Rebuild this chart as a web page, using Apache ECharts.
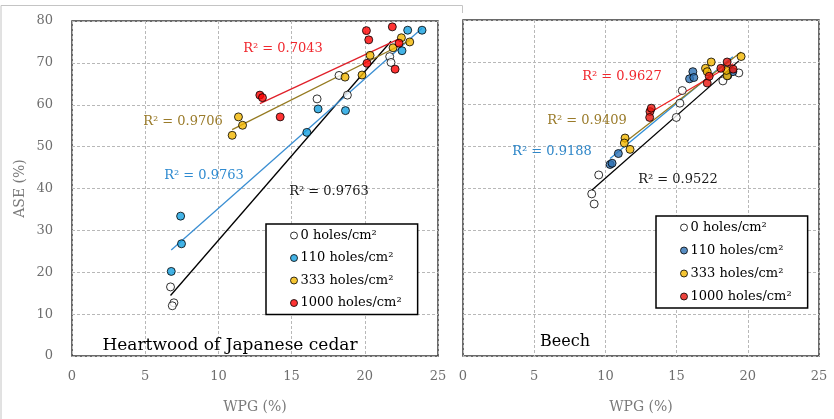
<!DOCTYPE html>
<html>
<head>
  <meta charset="UTF-8">
  <title>ASE vs WPG</title>
  <style>
    body { margin: 0; background: #fff; }
    #main { width: 834px; height: 419px; }
  </style>
</head>
<body>
  <div id="main"></div>
  <script src="https://cdn.jsdelivr.net/npm/echarts@6/dist/echarts.min.js"></script>
  <script>
    const holeNames = ['0 holes/cm²', '110 holes/cm²', '333 holes/cm²', '1000 holes/cm²'];
    const xTicks = [0, 25, 5];
    const yTicks = [0, 80, 10];

    // Heartwood of Japanese cedar, [WPG, ASE]
    const cedar0 = [[6.73, 16.5], [6.96, 12.7], [6.85, 12.0], [16.74, 61.4], [18.24, 67.0], [18.81, 62.3], [21.7, 71.5], [21.79, 70.1]];
    const cedar110 = [[7.42, 33.4], [7.48, 26.8], [6.78, 20.2], [16.04, 53.4], [16.81, 59.0], [18.68, 58.6], [22.54, 72.9], [22.93, 77.8], [23.91, 77.8]];
    const cedar333 = [[10.94, 52.7], [11.37, 57.1], [11.65, 55.1], [18.65, 66.6], [19.81, 67.1], [20.36, 71.8], [21.93, 73.6], [22.5, 76.0], [23.07, 75.0]];
    const cedar1000 = [[12.83, 62.3], [13.01, 61.7], [14.22, 57.1], [20.15, 69.9], [20.11, 77.7], [20.27, 75.5], [21.88, 78.6], [22.07, 68.5], [22.34, 74.7]];
    const cedarR2 = ['R² = 0.9763', 'R² = 0.9763', 'R² = 0.9706', 'R² = 0.7043'];

    // Beech
    const beech0 = [[9.04, 38.6], [9.21, 36.2], [9.53, 43.1], [14.98, 56.8], [15.23, 60.2], [15.4, 63.2], [18.25, 65.5], [19.37, 67.4]];
    const beech110 = [[10.33, 45.6], [10.47, 45.9], [10.91, 48.2], [16.14, 67.7], [15.91, 66.0], [16.21, 66.3], [18.6, 66.8], [18.95, 67.7]];
    const beech333 = [[11.38, 51.9], [11.33, 50.7], [11.73, 49.2], [17.03, 68.5], [17.43, 70.0], [17.15, 67.7], [18.55, 66.7], [19.53, 71.3], [18.5, 68.0]];
    const beech1000 = [[13.13, 58.2], [13.22, 59.0], [13.11, 56.8], [17.15, 65.0], [17.29, 66.6], [18.11, 68.5], [18.55, 70.0], [18.97, 68.3]];
    const beechR2 = ['R² = 0.9522', 'R² = 0.9188', 'R² = 0.9409', 'R² = 0.9627'];

    const serif = 'DejaVu Serif';
    const fillsL = ['#ffffff', '#14a0e0', '#f2b600', '#ff0000'];
    const fillsR = ['#ffffff', '#2e72b4', '#f2b600', '#e8140c'];
    const linesL = ['#000000', '#3a8ed2', '#957a20', '#e0202a'];
    const linesR = ['#000000', '#2f8fd8', '#957a20', '#f02020'];
    const textL = ['#1a1a1a', '#2e8ad0', '#9a7b2a', '#f0282e'];
    const textR = ['#1a1a1a', '#2e86c8', '#9a7b2a', '#f0282e'];

    // least squares line over the x range of the points
    function fit(pts) {
      const n = pts.length;
      let sx = 0, sy = 0;
      pts.forEach(p => { sx += p[0]; sy += p[1]; });
      const mx = sx / n, my = sy / n;
      let sxy = 0, sxx = 0;
      pts.forEach(p => { sxy += (p[0] - mx) * (p[1] - my); sxx += (p[0] - mx) ** 2; });
      const b = sxy / sxx, a = my - b * mx;
      const xs = pts.map(p => p[0]);
      const x0 = Math.min(...xs), x1 = Math.max(...xs);
      return [[x0, a + b * x0], [x1, a + b * x1]];
    }

    const grids = [
      { left: 72, top: 21, width: 366, height: 343, show: true, borderColor: '#3a3a3a', borderWidth: 1.5, backgroundColor: '#fff' },
      { left: 463, top: 20, width: 356, height: 342, show: true, borderColor: '#3a3a3a', borderWidth: 1.5, backgroundColor: '#fff' }
    ];

    function xAxis(i) {
      return {
        gridIndex: i, type: 'value', min: xTicks[0], max: xTicks[1], interval: xTicks[2],
        name: 'WPG (%)', nameLocation: 'middle', nameGap: 44,
        nameTextStyle: { fontFamily: serif, fontSize: 14, color: '#7a7a7a' },
        axisLine: { show: false }, axisTick: { show: false },
        axisLabel: { fontFamily: serif, fontSize: 13, color: '#6e6e6e', margin: 14 },
        splitLine: { lineStyle: { type: [3, 2], color: '#b8b8b8', width: 1 } }
      };
    }
    function yAxis(i) {
      return {
        gridIndex: i, type: 'value', min: yTicks[0], max: yTicks[1], interval: yTicks[2],
        name: i === 0 ? 'ASE (%)' : '', nameLocation: 'middle', nameGap: 45, nameRotate: 90,
        nameTextStyle: { fontFamily: serif, fontSize: 14, color: '#7a7a7a' },
        axisLine: { show: false }, axisTick: { show: false },
        axisLabel: { show: i === 0, fontFamily: serif, fontSize: 13, color: '#6e6e6e', margin: 19 },
        splitLine: { lineStyle: { type: [3, 2], color: '#b8b8b8', width: 1 } }
      };
    }

    const series = [];
    function addPanel(gi, sets, fills, lineColors) {
      sets.forEach((pts, k) => {
        series.push({
          type: 'line', xAxisIndex: gi, yAxisIndex: gi, data: fit(pts),
          symbol: 'none', silent: true, z: 2,
          lineStyle: { color: lineColors[k], width: 1.3 }
        });
      });
      sets.forEach((pts, k) => {
        series.push({
          name: holeNames[k], type: 'scatter', xAxisIndex: gi, yAxisIndex: gi, data: pts,
          symbol: 'circle', symbolSize: 8, z: 3,
          itemStyle: { color: fills[k], borderColor: '#000', borderWidth: 1 }
        });
      });
    }
    addPanel(0, [cedar0, cedar110, cedar333, cedar1000], fillsL, linesL);
    addPanel(1, [beech0, beech110, beech333, beech1000], fillsR, linesR);

    function legend(left, top, fills, itemGap) {
      return {
        orient: 'vertical', left: left, top: top, padding: [5, 16, 5, 24], itemGap: itemGap,
        itemWidth: 7, itemHeight: 7, icon: 'circle', selectedMode: false,
        borderColor: '#000', borderWidth: 1.5, backgroundColor: '#fff',
        textStyle: { fontFamily: serif, fontSize: 13, color: '#000', padding: [0, 0, 0, -2] },
        data: holeNames.map((n, k) => ({ name: n, itemStyle: { color: fills[k], borderColor: '#000', borderWidth: 1 } }))
      };
    }

    function label(x, y, text, color, size) {
      return {
        type: 'text', x: x, y: y, z: 10,
        style: { text: text, fill: color, font: size + 'px "' + serif + '"', textAlign: 'center', textVerticalAlign: 'middle' }
      };
    }

    const myChart = echarts.init(document.getElementById('main'));
    myChart.setOption({
      animation: false,
      grid: grids,
      xAxis: [xAxis(0), xAxis(1)],
      yAxis: [yAxis(0), yAxis(1)],
      legend: [legend(266, 224, fillsL, 9.5), legend(656, 216, fillsR, 10)],
      series: series,
      graphic: [
        { type: 'polyline', shape: { points: [[1, 419], [1, 5.5], [462.5, 5.5], [462.5, 13]] }, style: { stroke: '#c4c4c4', lineWidth: 1, fill: null } },
        label(329, 192, cedarR2[0], textL[0], 13),
        label(204, 176, cedarR2[1], textL[1], 13),
        label(183, 122, cedarR2[2], textL[2], 13),
        label(283, 49, cedarR2[3], textL[3], 13),
        label(230, 346, 'Heartwood of Japanese cedar', '#000', 17),
        label(678, 180, beechR2[0], textR[0], 13),
        label(552, 152, beechR2[1], textR[1], 13),
        label(587, 121, beechR2[2], textR[2], 13),
        label(622, 77, beechR2[3], textR[3], 13),
        label(565, 342, 'Beech', '#000', 16)
      ]
    });
  </script>
</body>
</html>
